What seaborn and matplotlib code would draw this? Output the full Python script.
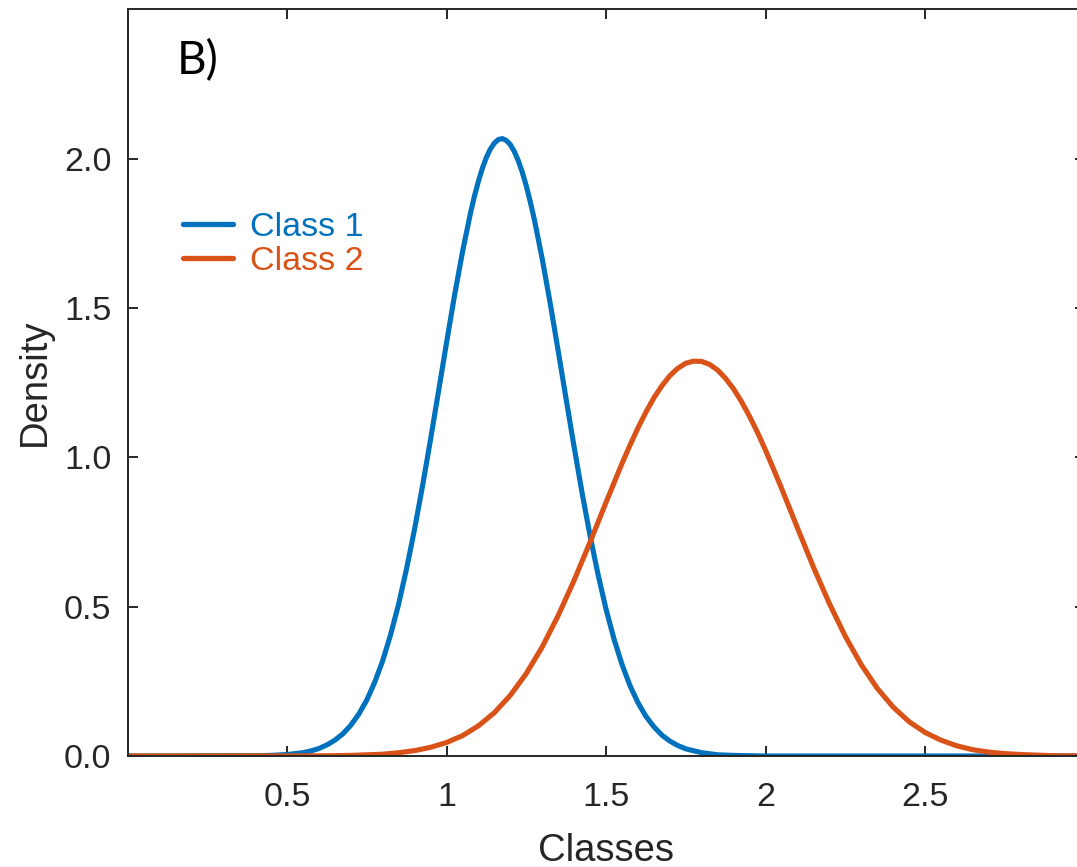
import numpy as np
import pandas as pd
import matplotlib
matplotlib.use("Agg")
import matplotlib.pyplot as plt
import seaborn as sns

# ---- data ----
class1_x = [0.0, 0.4, 0.45, 0.5, 0.55, 0.575, 0.6, 0.625, 0.65, 0.675, 0.7, 0.725,
            0.75, 0.775, 0.8, 0.825, 0.85, 0.875, 0.9, 0.925, 0.95, 0.975, 1.0,
            1.025, 1.05, 1.075, 1.0875, 1.1, 1.1125, 1.125, 1.1375, 1.15, 1.1625,
            1.175, 1.1875, 1.2, 1.2125, 1.225, 1.2375, 1.25, 1.2625, 1.275,
            1.3, 1.325, 1.35, 1.375, 1.4, 1.425, 1.45, 1.475, 1.5, 1.525, 1.55,
            1.575, 1.6, 1.625, 1.65, 1.675, 1.7, 1.725, 1.75, 1.8, 1.85, 1.9,
            2.0, 3.0]
class1_y = [0.0, 0.001, 0.002, 0.005, 0.011, 0.017, 0.025, 0.037, 0.053, 0.074,
            0.103, 0.140, 0.187, 0.247, 0.319, 0.407, 0.509, 0.628, 0.760, 0.905,
            1.060, 1.221, 1.383, 1.541, 1.687, 1.817, 1.874, 1.924, 1.968, 2.004,
            2.032, 2.052, 2.064, 2.067, 2.061, 2.047, 2.024, 1.993, 1.955, 1.909,
            1.856, 1.798, 1.665, 1.516, 1.357, 1.195, 1.035, 0.881,
            0.738, 0.608, 0.492, 0.392, 0.307, 0.236, 0.179, 0.133, 0.098, 0.070,
            0.050, 0.035, 0.024, 0.011, 0.004, 0.002, 0.0, 0.0]

class2_x = [0.0, 0.5, 0.6, 0.7, 0.75, 0.8, 0.85, 0.9, 0.95, 1.0, 1.05, 1.1, 1.15,
            1.2, 1.25, 1.3, 1.35, 1.4, 1.45, 1.5, 1.55, 1.575, 1.6, 1.625, 1.65,
            1.675, 1.7, 1.725, 1.75, 1.775, 1.8, 1.825, 1.85, 1.875, 1.9, 1.925,
            1.95, 1.975, 2.0, 2.025, 2.05, 2.1, 2.15, 2.2, 2.25, 2.3, 2.35, 2.4,
            2.45, 2.5, 2.55, 2.6, 2.65, 2.7, 2.75, 2.8, 2.9, 3.0]
class2_y = [0.0, 0.0002, 0.0006, 0.002, 0.004, 0.006, 0.011, 0.018, 0.029, 0.045,
            0.068, 0.101, 0.145, 0.203, 0.276, 0.365, 0.470, 0.588, 0.716, 0.849,
            0.979, 1.040, 1.098, 1.151, 1.199, 1.239, 1.273, 1.298, 1.315, 1.322,
            1.321, 1.311, 1.292, 1.264, 1.229, 1.186, 1.137, 1.083, 1.024, 0.961,
            0.897, 0.764, 0.633, 0.511, 0.401, 0.306, 0.227, 0.164, 0.115, 0.079,
            0.053, 0.034, 0.021, 0.013, 0.008, 0.005, 0.001, 0.0004]

class_names = ["Class 1", "Class 2"]
x_ticks = [0.5, 1, 1.5, 2, 2.5]
x_tick_labels = ["0.5", "1", "1.5", "2", "2.5"]
y_ticks = [0.0, 0.5, 1.0, 1.5, 2.0]
y_tick_labels = ["0.0", "0.5", "1.0", "1.5", "2.0"]

df = pd.concat([
    pd.DataFrame({"Classes": class1_x, "Density": class1_y, "Class": class_names[0]}),
    pd.DataFrame({"Classes": class2_x, "Density": class2_y, "Class": class_names[1]}),
], ignore_index=True)

# ---- styling ----
sns.set_style("ticks")
plt.rcParams["font.family"] = ["Liberation Sans", "DejaVu Sans"]
dark = "#262626"
palette = {"Class 1": "#0072BD", "Class 2": "#D95319"}

W, H, dpi = 1077, 867, 100
fig = plt.figure(figsize=(W / dpi, H / dpi), dpi=dpi)
left, right, top, bottom = 127.5, 1084.5, 9.3, 756
ax = fig.add_axes([left / W, 1 - bottom / H, (right - left) / W, (bottom - top) / H])

sns.lineplot(data=df, x="Classes", y="Density", hue="Class", hue_order=class_names,
             palette=palette, linewidth=3.7, ax=ax, legend=True, sort=False,
             estimator=None)

ax.set_xlim(0, 3)
ax.set_ylim(0, 2.5)
ax.set_xticks(x_ticks)
ax.set_xticklabels(x_tick_labels)
ax.set_yticks(y_ticks)
ax.set_yticklabels(y_tick_labels)
ax.tick_params(direction="in", top=True, right=True, length=7, width=1.4,
               colors=dark, labelsize=24.5)
ax.tick_params(axis="x", pad=19)
ax.tick_params(axis="y", pad=11.6)
for s in ax.spines.values():
    s.set_visible(True)
    s.set_linewidth(1.4)
    s.set_color(dark)

ax.set_xlabel("Classes", fontsize=27.5, color=dark, labelpad=14)
ax.set_ylabel("Density", fontsize=27.5, color=dark, labelpad=8)

leg = ax.legend(loc="center left", bbox_to_anchor=(0.058, 0.685), frameon=False,
                fontsize=24.5, handlelength=1.47, handletextpad=0.5,
                labelspacing=0.1, borderpad=0, borderaxespad=0,
                labelcolor="linecolor")
for h in leg.get_lines():
    h.set_linewidth(3.8)

ax.text(0.0517, 0.913, "B)", transform=ax.transAxes, fontsize=33,
        family=["Lato", "DejaVu Sans"], color="black", va="baseline", ha="left")

fig.savefig("out.png", dpi=dpi)
